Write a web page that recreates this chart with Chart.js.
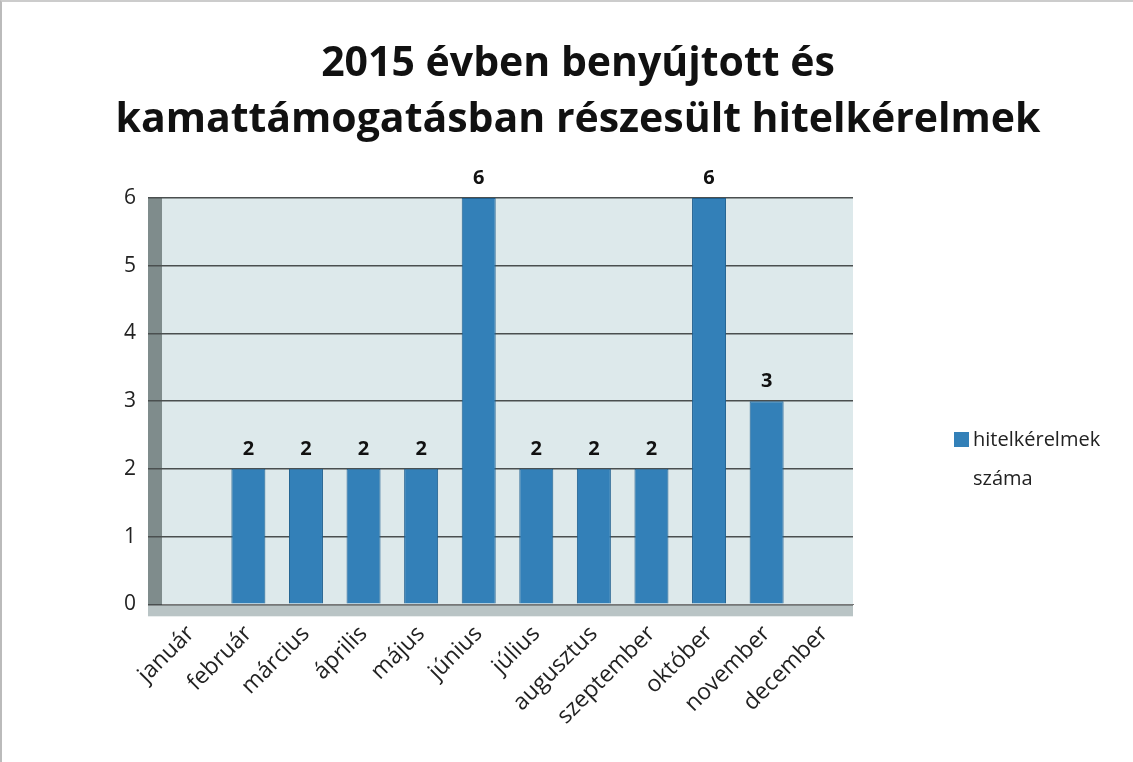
<!DOCTYPE html>
<html>
<head>
<meta charset="utf-8">
<script src="https://cdn.jsdelivr.net/npm/chart.js@4/dist/chart.umd.min.js"></script>
<style>
  html, body { margin: 0; padding: 0; background: #fff; }
  #wrap { width: 1133px; height: 762px; position: relative; box-sizing: border-box; border-left: 2px solid #bbb; border-top: 2px solid #ccc; }
</style>
</head>
<body>
<div id="wrap"><canvas id="grafikon"></canvas></div>
<script>
// adatok
var honapok = ["január", "február", "március", "április", "május", "június",
  "július", "augusztus", "szeptember", "október", "november", "december"];
var kerelmek = [0, 2, 2, 2, 2, 6, 2, 2, 2, 6, 3, 0];
var sorozatNev = "hitelkérelmek száma";
var cimSorok = ["2015 évben benyújtott és", "kamattámogatásban részesült hitelkérelmek"];

var betu = "'Open Sans', 'Liberation Sans', sans-serif";

// háttér a rajzterületnek + cím
var hatter = {
  id: "hatter",
  beforeDraw: function (chart) {
    var a = chart.chartArea, c = chart.ctx;
    c.save();
    c.fillStyle = "#dde9eb";
    c.fillRect(a.left, a.top, a.right - a.left, a.bottom - a.top);
    c.fillStyle = "#7f8c8c";
    c.fillRect(a.left - 14, a.top, 14, a.bottom - a.top);
    c.fillStyle = "#b9c4c5";
    c.fillRect(a.left - 14, a.bottom, a.right - a.left + 14, 12);
    // cím
    c.font = "bold 41px " + betu;
    c.fillStyle = "#111";
    c.textAlign = "center";
    c.textBaseline = "middle";
    c.fillText(cimSorok[0], 576, 62);
    c.fillText(cimSorok[1], 576, 118);
    c.restore();
  }
};

// értékek a hasábok fölött + jelmagyarázat
var feliratok = {
  id: "feliratok",
  afterDatasetsDraw: function (chart) {
    var c = chart.ctx;
    var meta = chart.getDatasetMeta(0);
    c.save();
    c.font = "bold 20px " + betu;
    c.fillStyle = "#111";
    c.textAlign = "center";
    c.textBaseline = "bottom";
    meta.data.forEach(function (bar, i) {
      if (kerelmek[i] > 0) c.fillText(kerelmek[i], bar.x, bar.y - 10);
    });
    // jelmagyarázat
    c.fillStyle = chart.data.datasets[0].backgroundColor;
    c.fillRect(952, 430, 15, 15);
    c.font = "20px " + betu;
    c.fillStyle = "#222";
    c.textAlign = "left";
    c.textBaseline = "middle";
    var sorok = sorozatNev.split(" ");
    c.fillText(sorok[0], 971, 438);
    c.fillText(sorok[1], 971, 477);
    c.restore();
  }
};

var ctx = document.getElementById("grafikon").getContext("2d");
var grafikon = new Chart(ctx, {
  type: "bar",
  data: {
    labels: honapok,
    datasets: [{
      label: sorozatNev,
      data: kerelmek,
      backgroundColor: "#3380b8",
      borderColor: "#1f5f8f",
      borderWidth: 1,
      categoryPercentage: 0.72,
      barPercentage: 0.82
    }]
  },
  options: {
    responsive: true,
    maintainAspectRatio: false,
    animation: false,
    layout: { padding: { left: 110, right: 280, top: 196, bottom: 24 } },
    plugins: {
      legend: { display: false },
      tooltip: { enabled: false },
      title: { display: false }
    },
    scales: {
      x: {
        grid: { display: false },
        border: { color: "#777" },
        ticks: {
          font: { family: betu, size: 23 },
          color: "#222",
          autoSkip: false,
          minRotation: 45,
          maxRotation: 45,
          padding: 8
        }
      },
      y: {
        min: 0,
        max: 6,
        grid: { color: "#4a4f4f", lineWidth: 1.5, tickLength: 14 },
        border: { display: false },
        ticks: {
          stepSize: 1,
          font: { family: betu, size: 21 },
          color: "#222",
          padding: 12
        }
      }
    }
  },
  plugins: [hatter, feliratok]
});
</script>
</body>
</html>
